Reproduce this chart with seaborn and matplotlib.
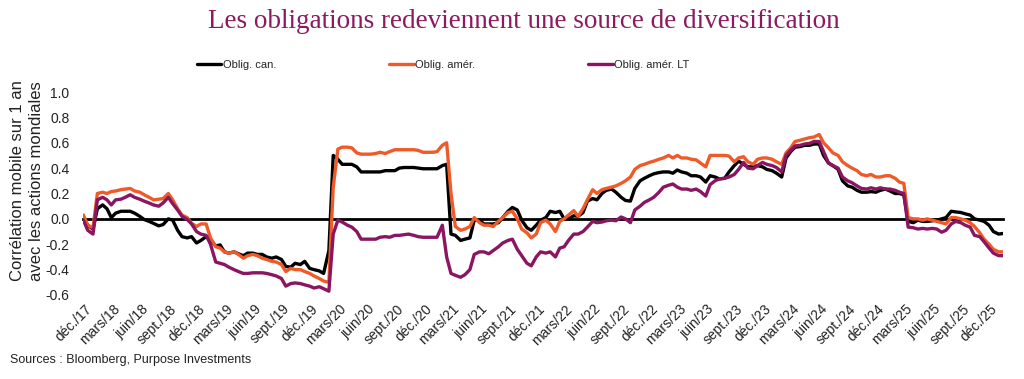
import numpy as np
import pandas as pd
import matplotlib
matplotlib.use("Agg")
import matplotlib.pyplot as plt
import seaborn as sns
from matplotlib.lines import Line2D

sns.set_style("white")
plt.rcParams['font.family'] = ['Liberation Sans', 'DejaVu Sans']
plt.rcParams['axes.unicode_minus'] = False

# semi-monthly observations, dec 2017 -> mid jan 2026
dates = pd.date_range('2017-12-01', periods=196, freq='SMS')

can = [
    0.0, -0.05, -0.08, 0.08, 0.11, 0.08, 0.01, 0.045, 0.06, 0.06,
    0.06, 0.045, 0.02, -0.005, -0.02, -0.035, -0.055, -0.045, 0.0, -0.01,
    -0.09, -0.14, -0.15, -0.14, -0.19, -0.17, -0.14, -0.165, -0.215, -0.205,
    -0.26, -0.27, -0.26, -0.275, -0.29, -0.27, -0.27, -0.28, -0.28, -0.30,
    -0.31, -0.30, -0.32, -0.375, -0.38, -0.35, -0.36, -0.335, -0.39, -0.40,
    -0.41, -0.43, -0.25, 0.50, 0.47, 0.43, 0.43, 0.43, 0.41, 0.37,
    0.37, 0.37, 0.37, 0.37, 0.38, 0.38, 0.38, 0.40, 0.405, 0.405,
    0.405, 0.40, 0.395, 0.395, 0.395, 0.395, 0.42, 0.43, -0.12, -0.13,
    -0.17, -0.16, -0.15, -0.01, -0.01, -0.04, -0.04, -0.04, -0.03, 0.01,
    0.06, 0.09, 0.07, -0.01, -0.07, -0.09, -0.05, -0.01, 0.01, 0.06,
    0.05, 0.06, 0.0, 0.0, 0.025, 0.02, 0.05, 0.14, 0.16, 0.15,
    0.20, 0.225, 0.235, 0.21, 0.17, 0.145, 0.14, 0.24, 0.30, 0.32,
    0.34, 0.355, 0.365, 0.37, 0.37, 0.36, 0.385, 0.37, 0.36, 0.34,
    0.34, 0.33, 0.29, 0.34, 0.33, 0.315, 0.32, 0.37, 0.42, 0.455,
    0.43, 0.41, 0.41, 0.42, 0.41, 0.39, 0.38, 0.36, 0.33, 0.48,
    0.53, 0.565, 0.57, 0.58, 0.58, 0.59, 0.59, 0.50, 0.44, 0.42,
    0.39, 0.30, 0.26, 0.25, 0.225, 0.21, 0.21, 0.215, 0.21, 0.225,
    0.235, 0.22, 0.20, 0.20, 0.19, -0.02, -0.03, -0.01, -0.02, -0.02,
    -0.015, -0.01, 0.0, 0.01, 0.06, 0.055, 0.05, 0.04, 0.03, 0.0,
    -0.01, -0.02, -0.05, -0.10, -0.12, -0.115,
]

us = [
    0.03, -0.05, -0.07, 0.20, 0.21, 0.20, 0.215, 0.22, 0.23, 0.235,
    0.24, 0.22, 0.21, 0.19, 0.17, 0.15, 0.155, 0.16, 0.20, 0.15,
    0.08, 0.03, 0.01, -0.035, -0.06, -0.04, -0.04, -0.15, -0.22, -0.23,
    -0.26, -0.27, -0.26, -0.28, -0.31, -0.29, -0.28, -0.29, -0.31, -0.32,
    -0.335, -0.34, -0.36, -0.415, -0.39, -0.40, -0.40, -0.415, -0.43, -0.45,
    -0.47, -0.49, -0.50, 0.25, 0.55, 0.565, 0.565, 0.56, 0.52, 0.51,
    0.51, 0.51, 0.515, 0.525, 0.515, 0.53, 0.545, 0.545, 0.545, 0.545,
    0.545, 0.54, 0.525, 0.525, 0.525, 0.53, 0.58, 0.60, 0.20, -0.06,
    -0.09, -0.08, -0.06, 0.01, -0.03, -0.05, -0.05, -0.06, -0.02, 0.01,
    0.05, 0.06, 0.0, -0.08, -0.11, -0.15, -0.12, -0.03, -0.01, -0.04,
    -0.10, -0.02, 0.0, 0.03, 0.065, 0.02, 0.08, 0.15, 0.23, 0.20,
    0.23, 0.24, 0.25, 0.26, 0.28, 0.30, 0.33, 0.39, 0.42, 0.43,
    0.445, 0.455, 0.47, 0.48, 0.50, 0.48, 0.50, 0.48, 0.48, 0.47,
    0.465, 0.44, 0.41, 0.50, 0.50, 0.50, 0.50, 0.495, 0.45, 0.48,
    0.49, 0.45, 0.43, 0.47, 0.48, 0.48, 0.47, 0.45, 0.43, 0.52,
    0.56, 0.61, 0.62, 0.63, 0.64, 0.645, 0.665, 0.60, 0.56, 0.52,
    0.50, 0.45, 0.42, 0.40, 0.38, 0.35, 0.34, 0.35, 0.33, 0.33,
    0.34, 0.34, 0.32, 0.29, 0.28, 0.01, 0.0, 0.0, -0.01, 0.0,
    -0.01, -0.02, -0.03, -0.04, 0.01, 0.01, 0.0, -0.01, -0.03, -0.06,
    -0.11, -0.16, -0.20, -0.24, -0.26, -0.26,
]

us_lt = [
    -0.01, -0.09, -0.12, 0.15, 0.17, 0.15, 0.11, 0.15, 0.155, 0.17,
    0.19, 0.17, 0.155, 0.14, 0.125, 0.11, 0.10, 0.125, 0.17, 0.12,
    0.07, 0.02, -0.005, -0.04, -0.10, -0.12, -0.13, -0.20, -0.34, -0.35,
    -0.36, -0.38, -0.40, -0.415, -0.43, -0.43, -0.425, -0.425, -0.425, -0.43,
    -0.44, -0.45, -0.47, -0.53, -0.51, -0.505, -0.51, -0.52, -0.53, -0.545,
    -0.535, -0.55, -0.57, -0.12, -0.01, -0.025, -0.05, -0.065, -0.10, -0.16,
    -0.16, -0.16, -0.16, -0.145, -0.14, -0.145, -0.13, -0.13, -0.125, -0.12,
    -0.13, -0.14, -0.145, -0.145, -0.145, -0.145, -0.05, -0.30, -0.43, -0.445,
    -0.46, -0.44, -0.40, -0.28, -0.26, -0.26, -0.275, -0.25, -0.22, -0.19,
    -0.17, -0.16, -0.24, -0.29, -0.35, -0.37, -0.30, -0.26, -0.27, -0.26,
    -0.30, -0.23, -0.22, -0.17, -0.12, -0.12, -0.10, -0.065, -0.02, -0.03,
    -0.025, -0.015, -0.01, -0.015, 0.015, 0.0, -0.03, 0.07, 0.10, 0.13,
    0.15, 0.17, 0.21, 0.25, 0.265, 0.275, 0.25, 0.235, 0.235, 0.225,
    0.235, 0.215, 0.18, 0.27, 0.30, 0.315, 0.32, 0.33, 0.35, 0.39,
    0.445, 0.40, 0.395, 0.42, 0.445, 0.43, 0.42, 0.405, 0.37, 0.50,
    0.54, 0.575, 0.58, 0.59, 0.595, 0.61, 0.61, 0.53, 0.44, 0.42,
    0.40, 0.33, 0.30, 0.285, 0.26, 0.24, 0.235, 0.245, 0.235, 0.245,
    0.235, 0.235, 0.225, 0.21, 0.20, -0.065, -0.07, -0.08, -0.075, -0.08,
    -0.075, -0.08, -0.105, -0.09, -0.04, -0.02, -0.03, -0.05, -0.065, -0.13,
    -0.14, -0.18, -0.23, -0.27, -0.29, -0.29,
]

series_names = ['Oblig. can.', 'Oblig. amér.', 'Oblig. amér. LT']
colors = ['#000000', '#F05A28', '#8A1560']

quarter_labels = [
    'déc./17', 'mars/18', 'juin/18', 'sept./18', 'déc./18', 'mars/19', 'juin/19',
    'sept./19', 'déc./19', 'mars/20', 'juin/20', 'sept./20', 'déc./20', 'mars/21',
    'juin/21', 'sept./21', 'déc./21', 'mars/22', 'juin/22', 'sept./22', 'déc./22',
    'mars/23', 'juin/23', 'sept./23', 'déc./23', 'mars/24', 'juin/24', 'sept./24',
    'déc./24', 'mars/25', 'juin/25', 'sept./25', 'déc./25',
]
quarters = pd.date_range('2017-12-01', periods=len(quarter_labels), freq='3MS')
y_ticks = [-0.6, -0.4, -0.2, 0.0, 0.2, 0.4, 0.6, 0.8, 1.0]

df = pd.DataFrame({'date': dates, series_names[0]: can,
                   series_names[1]: us, series_names[2]: us_lt})
df = df.melt('date', var_name='serie', value_name='corr')

fig = plt.figure(figsize=(10.24, 3.79), dpi=100)
ax = fig.add_axes([83.4 / 1024, 1 - 295 / 379, (1003 - 83.4) / 1024, 203 / 379])

sns.lineplot(data=df, x='date', y='corr', hue='serie', hue_order=series_names,
             palette=colors, linewidth=2.4, ax=ax, legend=False, zorder=3)

ax.set_xlim(dates[0], dates[-1])
ax.set_ylim(-0.6, 1.0)
ax.set_xlabel('')
ax.set_ylabel('')

# axis drawn through zero, labels hang at the bottom
for s in ['top', 'right', 'left']:
    ax.spines[s].set_visible(False)
ax.spines['bottom'].set_position(('data', 0))
ax.spines['bottom'].set_linewidth(2)
ax.spines['bottom'].set_color('black')
ax.set_xticks(quarters)
ax.tick_params(axis='x', direction='out', length=4, width=1.6, color='black',
               labelbottom=False)
ax.set_yticks(y_ticks)
ax.set_yticklabels([f'{v:.1f}' for v in y_ticks])
ax.tick_params(axis='y', length=0, pad=10, labelsize=10, labelcolor='#222222')

for q, lab in zip(quarters, quarter_labels):
    ax.annotate(lab, xy=(q, 0), xycoords=('data', 'axes fraction'),
                xytext=(1, -5), textcoords='offset points', rotation=45,
                ha='right', va='top', rotation_mode='anchor', fontsize=10,
                color='#222222', annotation_clip=False)

handles = [Line2D([], [], color=c, lw=2.4) for c in colors]
fig.legend(handles, series_names, loc='center left',
           bbox_to_anchor=(197 / 1024, 1 - 65 / 379), ncol=3, frameon=False,
           fontsize=8, handlelength=2.2, handletextpad=0.1, columnspacing=10.2,
           borderpad=0, borderaxespad=0)

fig.text(524 / 1024, 1 - 21 / 379,
         'Les obligations redeviennent une source de diversification',
         ha='center', va='center', fontsize=19.5, family='Liberation Serif',
         color='#8B1A5E')
fig.text(27 / 1024, 1 - 181 / 379,
         'Corrélation mobile sur 1 an\navec les actions mondiales',
         rotation=90, ha='center', va='center', multialignment='center',
         fontsize=12, linespacing=1.3, color='#222222')
fig.text(10 / 1024, 1 - 360 / 379, 'Sources : Bloomberg, Purpose Investments',
         ha='left', va='center', fontsize=9, color='#222222')

fig.savefig('out.png', dpi=100)
